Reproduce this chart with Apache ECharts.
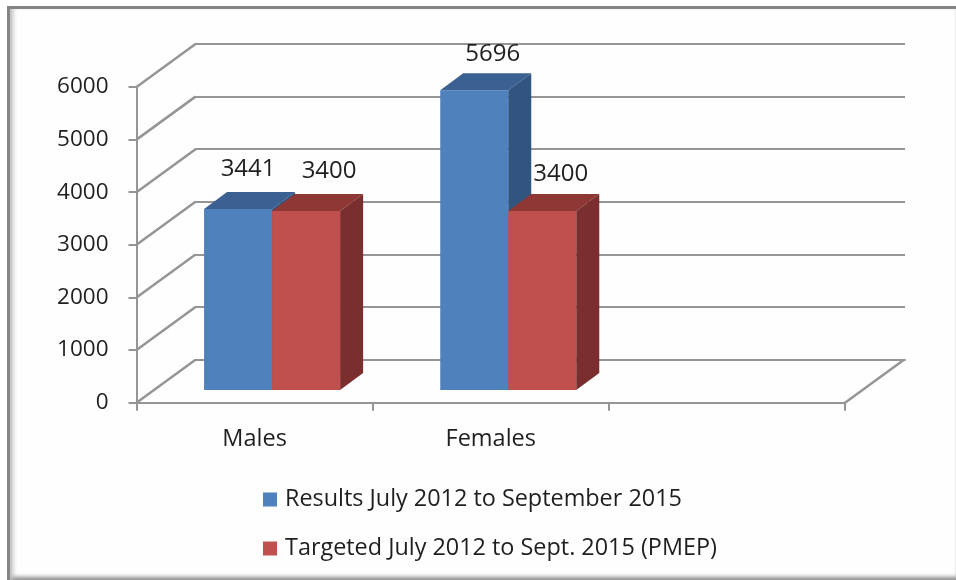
<!DOCTYPE html>
<html>
<head>
<meta charset="utf-8">
<title>Results vs target</title>
<script src="https://cdn.jsdelivr.net/npm/echarts@6/dist/echarts.min.js"></script>
<style>
  html, body { margin: 0; padding: 0; background: #fff; }
  #frame {
    position: absolute; left: 7px; top: 6px; width: 949px; height: 574px;
    box-sizing: border-box; background: #fefefe;
    border-top: 3px solid #858585; border-left: 3px solid #858585;
    box-shadow: inset 6px 0 5px -3px #bdbdbd, inset 0 -5px 4px -2px #8a8a8a;
  }
  #chart { position: absolute; left: 0; top: 0; width: 956px; height: 580px; }
</style>
</head>
<body>
<div id="frame"></div>
<div id="chart"></div>
<script>
const categories = ['Males', 'Females', '']
const resultsValues = [3441, 5696]
const targetValues = [3400, 3400]
const yTicks = [0, 1000, 2000, 3000, 4000, 5000, 6000]
const seriesNames = ['Results July 2012 to September 2015', 'Targeted July 2012 to Sept. 2015 (PMEP)']

const chart = echarts.init(document.getElementById('chart'))
const font = '"Open Sans", "Noto Sans", sans-serif'
const lineColor = '#959595'
const textColor = '#1f1f1f'

// depth of the chart box and of the bars, in pixels
const wallDepth = [59, -43]
const barShift = [17.5, -12.7]
const barDepth = [23, -17]
const barRatio = 0.288
// the labels were moved by hand in the original
const labelShift = [[[10, -39.5], [18.5, -36]], [[23, -40], [18.5, -37]]]

function barSeries(name, values, offset, colors, seriesIndex) {
  return {
    name: name,
    type: 'custom',
    xAxisIndex: 0,
    yAxisIndex: 0,
    z: 5 + seriesIndex,
    itemStyle: { color: colors[0] },
    encode: { x: 0, y: 1 },
    data: values.map((v, i) => [i, v]),
    renderItem(params, api) {
      const i = api.value(0)
      const top = api.coord([i, api.value(1)])
      const base = api.coord([i, 0])
      const w = api.size([1, 0])[0] * barRatio
      const x0 = top[0] + barShift[0] + offset * w
      const x1 = x0 + w
      const yTop = top[1] + barShift[1]
      const yBase = base[1] + barShift[1]
      const [dx, dy] = barDepth
      const nudge = labelShift[seriesIndex][i]
      const poly = (points, fill) => ({
        type: 'polygon',
        shape: { points: points },
        style: { fill: fill }
      })
      return {
        type: 'group',
        children: [
          poly([[x0, yTop], [x1, yTop], [x1, yBase], [x0, yBase]], colors[0]),
          poly([[x0, yTop], [x1, yTop], [x1 + dx, yTop + dy], [x0 + dx, yTop + dy]], colors[1]),
          poly([[x1, yTop], [x1 + dx, yTop + dy], [x1 + dx, yBase + dy], [x1, yBase]], colors[2]),
          {
            type: 'text',
            z2: 10,
            style: {
              x: x0 + w / 2 + nudge[0],
              y: yTop + nudge[1],
              text: String(api.value(1)),
              align: 'center',
              verticalAlign: 'middle',
              fill: textColor,
              font: '24px ' + font
            }
          }
        ]
      }
    }
  }
}

const options = {
  animation: false,
  backgroundColor: 'transparent',
  textStyle: { fontFamily: font },
  legend: {
    orient: 'vertical',
    left: 263,
    top: 488,
    padding: 0,
    icon: 'rect',
    itemWidth: 14,
    itemHeight: 14,
    itemGap: 26,
    selectedMode: false,
    data: seriesNames,
    textStyle: { color: textColor, fontSize: 23.4, fontFamily: font, padding: [0, 0, 0, 3] }
  },
  grid: [
    // front of the box, carries the labels
    { left: 136.5, right: 111, top: 87, bottom: 177.3 },
    // back wall
    { left: 195, right: 51, top: 44, bottom: 220.3 }
  ],
  xAxis: [
    {
      type: 'category',
      gridIndex: 0,
      data: categories,
      axisLine: { lineStyle: { color: lineColor, width: 2 } },
      axisTick: { show: true, length: 8, lineStyle: { color: lineColor, width: 2 } },
      axisLabel: { color: textColor, fontSize: 23.5, margin: 25, fontFamily: font }
    },
    {
      type: 'category',
      gridIndex: 1,
      data: categories,
      axisLine: { show: true, lineStyle: { color: lineColor, width: 2 } },
      axisTick: { show: false },
      axisLabel: { show: false }
    }
  ],
  yAxis: [
    {
      type: 'value',
      gridIndex: 0,
      min: 0,
      max: 6000,
      interval: 1000,
      axisLine: { show: true, lineStyle: { color: lineColor, width: 2 } },
      axisTick: { show: true, length: 8, lineStyle: { color: lineColor, width: 2 } },
      axisLabel: { color: textColor, fontSize: 22.5, margin: 28, padding: [7, 0, 0, 0], fontFamily: font, formatter: v => String(v) },
      splitLine: { show: false }
    },
    {
      type: 'value',
      gridIndex: 1,
      min: 0,
      max: 6000,
      interval: 1000,
      axisLine: { show: false },
      axisTick: { show: false },
      axisLabel: { show: false },
      splitLine: { show: true, lineStyle: { color: lineColor, width: 2 } }
    }
  ],
  series: [
    {
      // side wall and floor edges joining the front of the box to the back wall
      type: 'custom',
      xAxisIndex: 0,
      yAxisIndex: 0,
      silent: true,
      z: 2,
      encode: { x: 0, y: 1 },
      data: yTicks.map(t => [0, t]).concat([[2, 0]]),
      renderItem(params, api) {
        const p = api.coord([api.value(0), api.value(1)])
        const half = api.size([1, 0])[0] / 2
        const x = api.value(0) === 0 ? p[0] - half : p[0] + half
        return {
          type: 'line',
          shape: { x1: x, y1: p[1], x2: x + wallDepth[0], y2: p[1] + wallDepth[1] },
          style: { stroke: lineColor, lineWidth: 2.5 }
        }
      }
    },
    barSeries(seriesNames[0], resultsValues, -1, ['#4f81bd', '#3a6191', '#31557f'], 0),
    barSeries(seriesNames[1], targetValues, 0, ['#c0504d', '#8e3735', '#7a2f2e'], 1)
  ]
}

chart.setOption(options)
</script>
</body>
</html>
